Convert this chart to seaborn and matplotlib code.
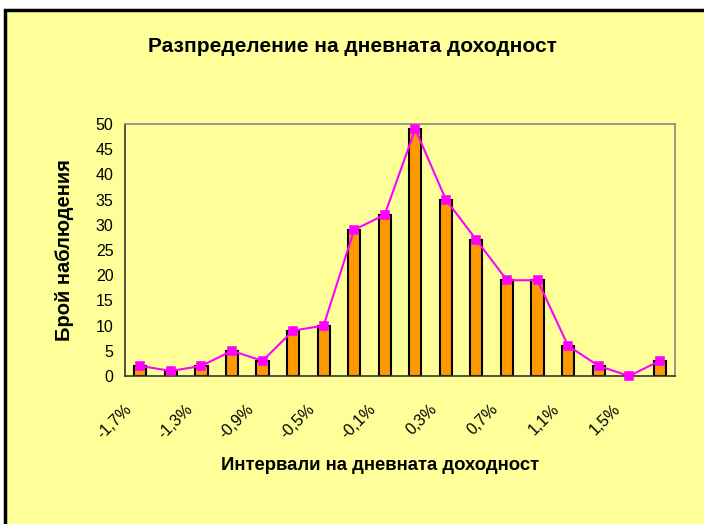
import numpy as np
import pandas as pd
import seaborn as sns
import matplotlib.pyplot as plt
from matplotlib.patches import Rectangle
from matplotlib.transforms import ScaledTranslation

# Data
intervals = ['-1,7%', '-1,5%', '-1,3%', '-1,1%', '-0,9%', '-0,7%', '-0,5%', '-0,3%', '-0,1%',
             '0,1%', '0,3%', '0,5%', '0,7%', '0,9%', '1,1%', '1,3%', '1,5%', '1,7%']
counts = [2, 1, 2, 5, 3, 9, 10, 29, 32, 49, 35, 27, 19, 19, 6, 2, 0, 3]
shown_labels = intervals[::2]
y_ticks = list(range(0, 51, 5))

df = pd.DataFrame({'interval': intervals, 'count': counts})

sns.set_style("white")
plt.rcParams['font.family'] = ['Liberation Sans', 'DejaVu Sans']
plt.rcParams['text.color'] = 'black'
plt.rcParams['xtick.color'] = 'black'
plt.rcParams['ytick.color'] = 'black'

bg = '#FFFF99'
fig = plt.figure(figsize=(7.04, 5.24), dpi=100, facecolor='white')
# yellow chart area with a black frame (only top/left visible)
top = (524 - 9.5) / 524
fig.patches.append(Rectangle((5 / 704, -0.2), 1.2, top + 0.2,
                             transform=fig.transFigure, facecolor=bg, edgecolor='black',
                             linewidth=2.5, zorder=-5))

ax = fig.add_axes([125 / 704, (524 - 376) / 524, 550 / 704, 252 / 524])
ax.set_facecolor(bg)

sns.barplot(data=df, x='interval', y='count', order=intervals, color='#FF9900',
            edgecolor='black', linewidth=1.5, width=0.4, saturation=1, ax=ax, zorder=2)
sns.pointplot(data=df, x='interval', y='count', order=intervals, color='#FF00FF',
              markers='s', markersize=6, linewidth=1.5, errorbar=None, ax=ax)
for c in ax.collections:
    c.set_zorder(3)
for l in ax.lines:
    l.set_zorder(3)
    l.set_clip_on(False)

ax.set_xlim(-0.5, len(intervals) - 0.5)
ax.set_ylim(0, 50)
ax.set_yticks(y_ticks)
ax.set_yticklabels([str(v) for v in y_ticks], fontsize=11.5)
ax.set_xticks(range(0, len(intervals), 2))
ax.set_xticklabels(shown_labels, rotation=45, ha='right', fontsize=11.5)
ax.set_xticks(np.arange(-0.5, len(intervals)), minor=True)
ax.tick_params(axis='x', which='major', length=0, pad=18.5)
ax.tick_params(axis='x', which='minor', length=4.3, width=1, color='#333333', direction='out')
ax.tick_params(axis='y', length=4.3, width=1, color='#333333', direction='out', pad=4)
ax.set_xlabel('')
ax.set_ylabel('')

# shift rotated tick labels a little to the left, as in the reference
shift = ScaledTranslation(-6 / 100, 0, fig.dpi_scale_trans)
for lbl in ax.get_xticklabels():
    lbl.set_transform(lbl.get_transform() + shift)

for side in ['left', 'bottom']:
    ax.spines[side].set_color('#333333')
    ax.spines[side].set_linewidth(1.2)
for side in ['top', 'right']:
    ax.spines[side].set_color('#888888')
    ax.spines[side].set_linewidth(1.2)

fig.text(352 / 704, 1 - 46 / 524, 'Разпределение на дневната доходност',
         ha='center', va='center', fontsize=15, fontweight='bold')
fig.text(65 / 704, 1 - 250 / 524, 'Брой наблюдения', rotation=90,
         ha='center', va='center', fontsize=14.5, fontweight='bold')
fig.text(380 / 704, 1 - 466 / 524, 'Интервали на дневната доходност',
         ha='center', va='center', fontsize=13.3, fontweight='bold')

plt.savefig('out.png', dpi=100, facecolor=fig.get_facecolor())
